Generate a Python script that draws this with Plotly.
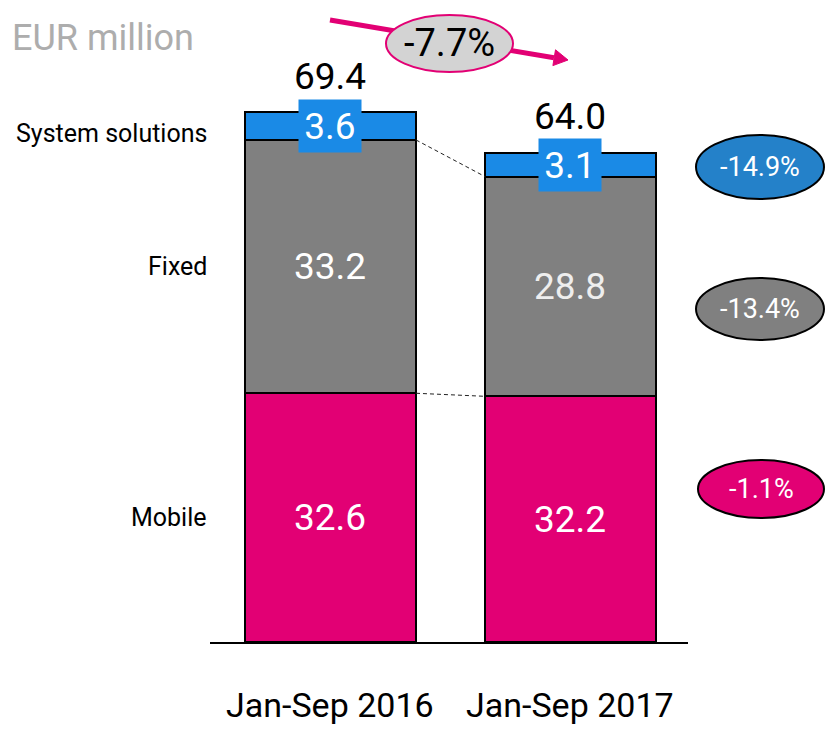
import plotly.graph_objects as go

# data
periods = ['Jan-Sep 2016', 'Jan-Sep 2017']
segments = ['Mobile', 'Fixed', 'System solutions']
mobile = [32.6, 32.2]
fixed = [33.2, 28.8]
system = [3.6, 3.1]
totals = ['69.4', '64.0']
changes = ['-1.1%', '-13.4%', '-14.9%']
total_change = '-7.7%'

MAGENTA = '#E20074'
GREY = '#808080'
BLUE = '#1A8AE6'
FONT = 'Roboto, Arial'

# the page puts the figure 8px in from the top-left corner
OFF = 8
FW, FH = 833 - OFF, 730 - OFF
# plot area in page pixels: x 210..688, axis at y 642
L, R, H = 210 - OFF, 688 - OFF, 642 - OFF
def px(x):
    return (x - OFF - L) / (R - L)
def py(y):
    return (H - (y - OFF)) / H

fig = go.Figure()
bar_w = 0.7125
for name, vals, col in [('Mobile', mobile, MAGENTA), ('Fixed', fixed, GREY), ('System solutions', system, BLUE)]:
    fig.add_trace(go.Bar(x=periods, y=vals, name=name, width=bar_w,
                         marker=dict(color=col, line=dict(color='black', width=2)),
                         hoverinfo='skip'))

def note(**kw):
    kw.setdefault('showarrow', False)
    kw.setdefault('xanchor', 'center')
    kw.setdefault('yanchor', 'middle')
    return kw

ann = []
# segment values
for i, p in enumerate(periods):
    ann.append(note(x=p, y=mobile[i] / 2, text=f'{mobile[i]:.1f}',
                    font=dict(size=37, color='white', family=FONT)))
    ann.append(note(x=p, y=mobile[i] + fixed[i] / 2, text=f'{fixed[i]:.1f}',
                    font=dict(size=37, color='white' if i == 0 else '#eeeeee', family=FONT)))
    ann.append(note(x=p, y=mobile[i] + fixed[i] + system[i] / 2, text=f'{system[i]:.1f}',
                    bgcolor=BLUE, width=60, height=50,
                    font=dict(size=37, color='white', family=FONT)))
    ann.append(note(x=p, y=mobile[i] + fixed[i] + system[i], text=totals[i],
                    yshift=36, font=dict(size=37, color='black', family=FONT)))
    ann.append(note(x=p, xref='x', y=py(705), yref='paper', text=p,
                    font=dict(size=34, color='black', family=FONT)))

# left segment labels
left_y = [mobile[0] / 2, mobile[0] + fixed[0] / 2, mobile[0] + fixed[0] + system[0] / 2 - 1.0]
for name, yv in zip(segments, left_y):
    ann.append(note(x=0, xref='paper', y=yv, text=name, xanchor='right',
                    xshift=-1, font=dict(size=25, color='black', family=FONT)))

ann.append(note(x=px(10), xref='paper', y=py(38), yref='paper', text='EUR million',
                xanchor='left', font=dict(size=36, color='#ADADAD', family=FONT)))

# growth bubbles on the right
bubble_cols = [MAGENTA, GREY, '#2481C9']
bubble_pos = [(761, 489, 63, 29), (760, 309, 64, 31), (760, 167, 64, 32)]
shapes = []
for txt, col, (cx, cy, rx, ry) in zip(changes, bubble_cols, bubble_pos):
    shapes.append(dict(type='circle', xref='paper', yref='paper',
                       x0=px(cx - rx), x1=px(cx + rx), y0=py(cy + ry), y1=py(cy - ry),
                       fillcolor=col, line=dict(color='black', width=2)))
    ann.append(note(x=px(cx), xref='paper', y=py(cy), yref='paper', text=txt,
                    font=dict(size=27, color='white', family=FONT)))

# dashed connectors between the bars
half = bar_w / 2
for lvl in [[mobile[i] for i in range(2)], [mobile[i] + fixed[i] for i in range(2)]]:
    shapes.append(dict(type='line', xref='x', yref='y', x0=half, x1=1 - half, y0=lvl[0], y1=lvl[1],
                       line=dict(color='#222222', width=1, dash='4px,3px')))

# overall change arrow
shapes.append(dict(type='line', xref='paper', yref='paper', x0=px(330), y0=py(20), x1=px(554), y1=py(57.7),
                   line=dict(color=MAGENTA, width=5)))
shapes.append(dict(type='path', xref='paper', yref='paper',
                   path=f'M {px(568)},{py(60)} L {px(552.9)},{py(65.6)} L {px(555.5)},{py(49.8)} Z',
                   fillcolor=MAGENTA, line=dict(color=MAGENTA, width=1)))
shapes.append(dict(type='circle', xref='paper', yref='paper',
                   x0=px(386), x1=px(513), y0=py(72), y1=py(15),
                   fillcolor='#D3D3D3', line=dict(color=MAGENTA, width=2)))
ann.append(note(x=px(449.5), xref='paper', y=py(43), yref='paper', text=total_change,
                font=dict(size=38, color='black', family=FONT)))

fig.update_layout(
    barmode='stack',
    width=FW, height=FH,
    margin=dict(l=L, r=FW - R, t=0, b=FH - H),
    paper_bgcolor='white', plot_bgcolor='white',
    showlegend=False,
    xaxis=dict(range=[-0.502, 1.4896], showticklabels=False, showgrid=False, zeroline=False,
               showline=True, linecolor='black', linewidth=2, ticks=''),
    yaxis=dict(range=[0, H / 7.63], visible=False, showgrid=False),
    annotations=ann,
    shapes=shapes,
)

fig.write_html('out.html')
